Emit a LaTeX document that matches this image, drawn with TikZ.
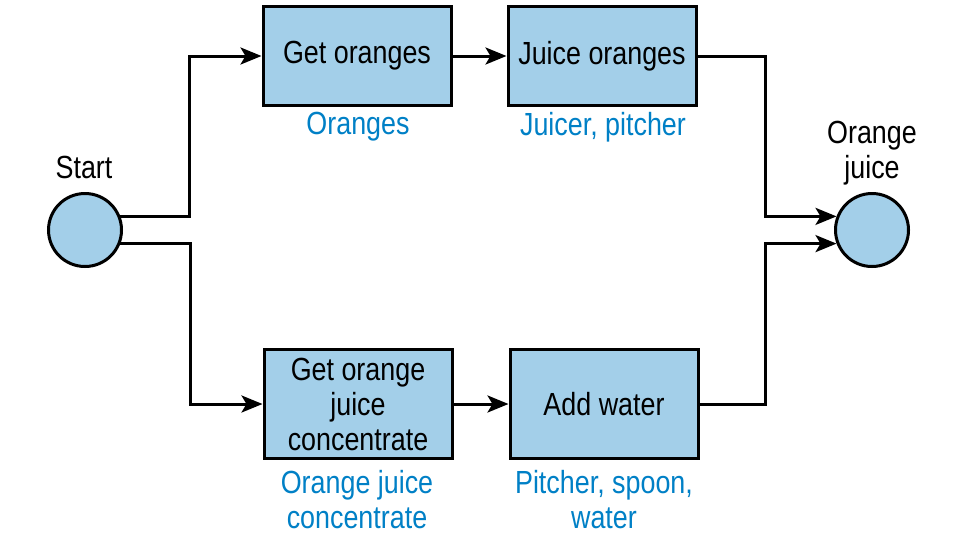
\documentclass[tikz,border=0pt]{standalone}
\usepackage{fontspec}
\setmainfont{Liberation Sans}[FakeStretch=0.84]
\usetikzlibrary{arrows.meta}
\definecolor{boxblue}{RGB}{163,207,233}
\definecolor{resblue}{RGB}{0,128,198}
\tikzset{
	>={Stealth[length=21pt,width=17pt,inset=5pt]},
	every path/.style={line width=3pt},
	task/.style={draw,fill=boxblue,minimum width=188pt,minimum height=99pt,inner sep=0pt,align=center},
	tall/.style={minimum height=109pt},
	state/.style={draw,circle,fill=boxblue,minimum size=73pt,inner sep=0pt},
	res/.style={text=resblue,align=center},
	lbl/.style={align=center}
}
\begin{document}
\begin{tikzpicture}[x=1pt,y=-1pt,font=\fontsize{32}{35}\selectfont]
	\useasboundingbox (0,0) rectangle (963,533);
	\node[state] (start) at (85,230) {};
	\node[lbl] (startl) at (84,167) {Start};
	\node[state] (end) at (872,230) {};
	\node[lbl] (endl) at (872,153) {Orange\\juice};
	\node[task] (getor) at (357,56) {Get oranges};
	\node[task] (juice) at (602,56) {Juice oranges};
	\node[task,tall] (getoj) at (358,404) {Get orange\\juice\\concentrate};
	\node[task,tall] (water) at (604,404) {Add water};
	\node[res] (getorr) at (358,127) {Oranges};
	\node[res] (juicer) at (603,127) {Juicer, pitcher};
	\node[res] (getojr) at (357,500) {Orange juice\\concentrate};
	\node[res] (waterr) at (604,500) {Pitcher, spoon,\\water};
	\draw[->] (start.21) -| ([xshift=-72pt]getor.west) -- (getor.west);
	\draw[->] (start.-21) -| ([xshift=-72pt]getoj.west) -- (getoj.west);
	\draw[->] (getor) -- (juice);
	\draw[->] (getoj) -- (water);
	\draw[->] (juice.east) -| ([xshift=-71pt]end.159) -- (end.159);
	\draw[->] (water.east) -| ([xshift=-71pt]end.201) -- (end.201);
\end{tikzpicture}
\end{document}
